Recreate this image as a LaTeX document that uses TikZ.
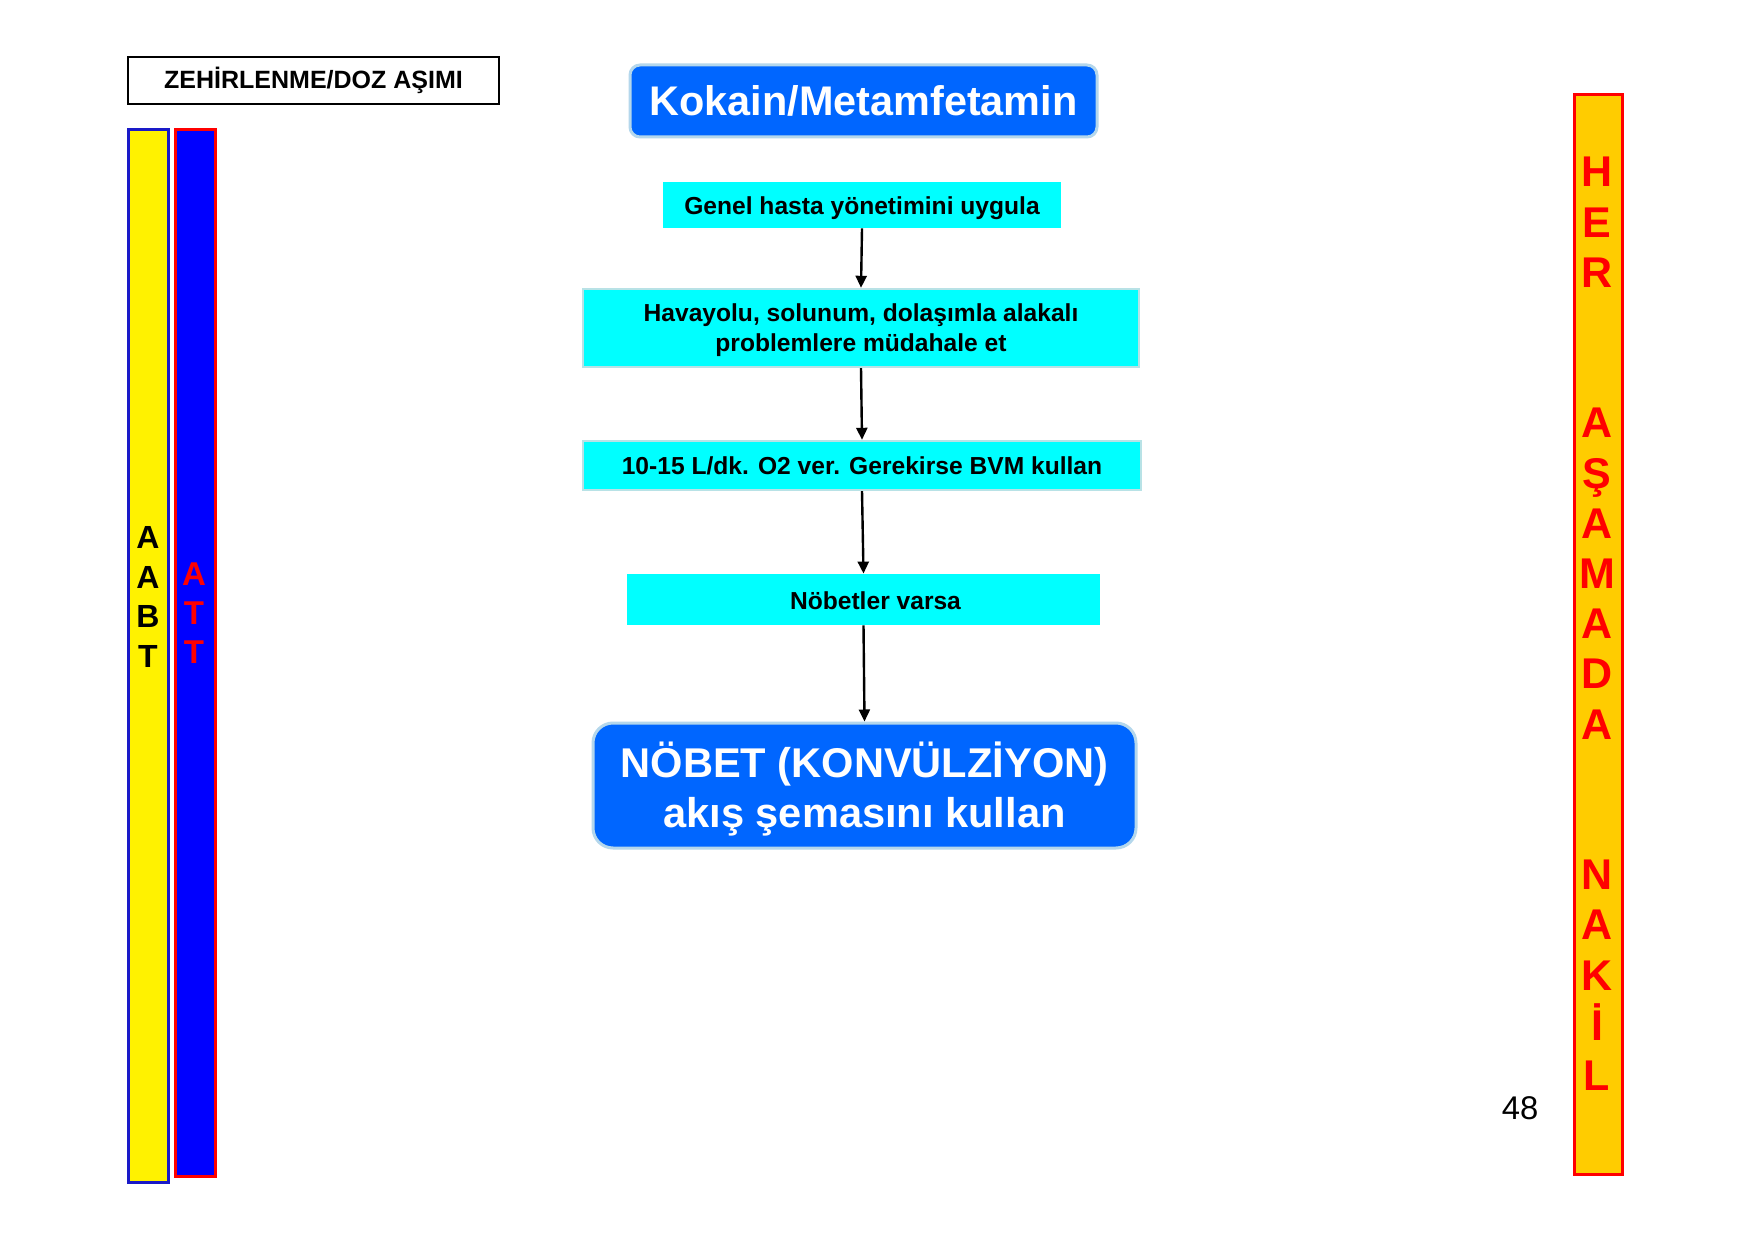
\documentclass[tikz,border=0pt]{standalone}
\usepackage{fontspec}
\setmainfont{Liberation Sans}
\usetikzlibrary{arrows.meta}
\definecolor{boxblue}{HTML}{0066FF}
\definecolor{paleblue}{HTML}{B4D7EC}
\definecolor{palecyan}{HTML}{B8E2E6}
\definecolor{cyanbox}{HTML}{00FFFF}
\definecolor{gold}{HTML}{FFCC00}
\definecolor{barblue}{HTML}{0000FF}
\definecolor{darkblue}{HTML}{1A1AC8}
% fixed strut: height #1, depth #2
\newcommand\fixstrut[2]{\rule[-#2]{0pt}{\dimexpr#1+#2\relax}}
\newcommand\smallstrut{\fixstrut{12pt}{3.2pt}}
\tikzset{
  roundbox/.style={rectangle, rounded corners=#1, fill=boxblue, draw=paleblue, line width=1.5pt,
    text=white, font=\fontsize{20.8}{25}\selectfont\bfseries, align=center, inner sep=0pt},
  cyanstep/.style={rectangle, fill=cyanbox, text=black, inner sep=0pt,
    font=\fontsize{12.3}{15}\selectfont\bfseries, align=center},
  cyanframed/.style={cyanstep, draw=palecyan, line width=1.2pt},
  arr/.style={-{Triangle[length=6pt,width=5.5pt]}, line width=1.2pt, black},
  barbox/.style={rectangle, inner sep=0pt, line width=1.5pt},
}
\begin{document}
\begin{tikzpicture}[x=0.5pt, y=-0.5pt]
\useasboundingbox (0,0) rectangle (1755,1240);
\fill[white] (0,0) rectangle (1755,1240);

% header
\node[rectangle, draw=black, line width=1pt, minimum width=185.5pt, minimum height=23.5pt,
  inner sep=0pt, font=\fontsize{12.5}{14}\selectfont\bfseries] (title) at (313.5,80.5) {ZEHİRLENME/DOZ AŞIMI};

% left bars
\node[barbox, fill=yellow, draw=darkblue, minimum width=20pt, minimum height=526pt] (ybar) at (148,656) {};
\node[barbox, fill=barblue, draw=red, minimum width=20pt, minimum height=523pt] (bbar) at (195,653) {};
\node[align=center, inner sep=0pt, text=black, font=\fontsize{16}{19.75}\selectfont\bfseries] (aabt) at (148,597) {A\\A\\B\\T};
\node[align=center, inner sep=0pt, text=red, font=\fontsize{16.5}{19.6}\selectfont\bfseries] (att) at (194,613) {A\\T\\T};

% right bar
\node[barbox, fill=gold, draw=red, minimum width=24pt, minimum height=539.5pt] (rbar) at (1598,634.5) {};
\node[align=center, inner sep=0pt, text=red, font=\fontsize{21.5}{25.1}\selectfont\bfseries] (her) at (1597,624)
  {H\\E\\R\\~\\~\\A\\Ş\\A\\M\\A\\D\\A\\~\\~\\N\\A\\K\\İ\\L};

% flow
\node[roundbox=5pt, font=\fontsize{20.7}{25}\selectfont\bfseries, minimum width=233.5pt, minimum height=36pt] (kokain) at (863.5,101) {Kokain/Metamfetamin};
\node[cyanstep, minimum width=199pt, minimum height=23pt] (genel) at (862,205) {\fixstrut{12.5pt}{3.2pt}Genel hasta yönetimini uygula};
\node[cyanframed, minimum width=278pt, minimum height=39pt] (hava) at (861,328) {\fixstrut{12pt}{0pt}Havayolu, solunum, dolaşımla alakalı\\problemlere müdahale et\fixstrut{0pt}{3.2pt}};
\node[cyanframed, minimum width=279pt, minimum height=24.5pt] (oksijen) at (862,465.5) {\smallstrut 10-15 L/dk. O2 ver. Gerekirse BVM kullan};
\node[cyanstep, minimum width=236.5pt, minimum height=25.5pt] (nobetler) at (863.5,599.5) {\hspace*{12pt}\fixstrut{13pt}{3.2pt}Nöbetler varsa};
\node[roundbox=10pt, minimum width=271.5pt, minimum height=62.5pt] (konv) at (864.5,785.5) {\fixstrut{22.5pt}{0pt}NÖBET (KONVÜLZİYON)\\akış şemasını kullan\fixstrut{0pt}{5.3pt}};

\draw[arr] (genel.south) -- (hava.north);
\draw[arr] (hava.south) -- (oksijen.north);
\draw[arr] (oksijen.south) -- (nobetler.north);
\draw[arr] (nobetler.south) -- (konv.north);

% page number
\node[inner sep=0pt, font=\fontsize{16.4}{18}\selectfont] (page) at (1520,1108) {48};
\end{tikzpicture}
\end{document}
